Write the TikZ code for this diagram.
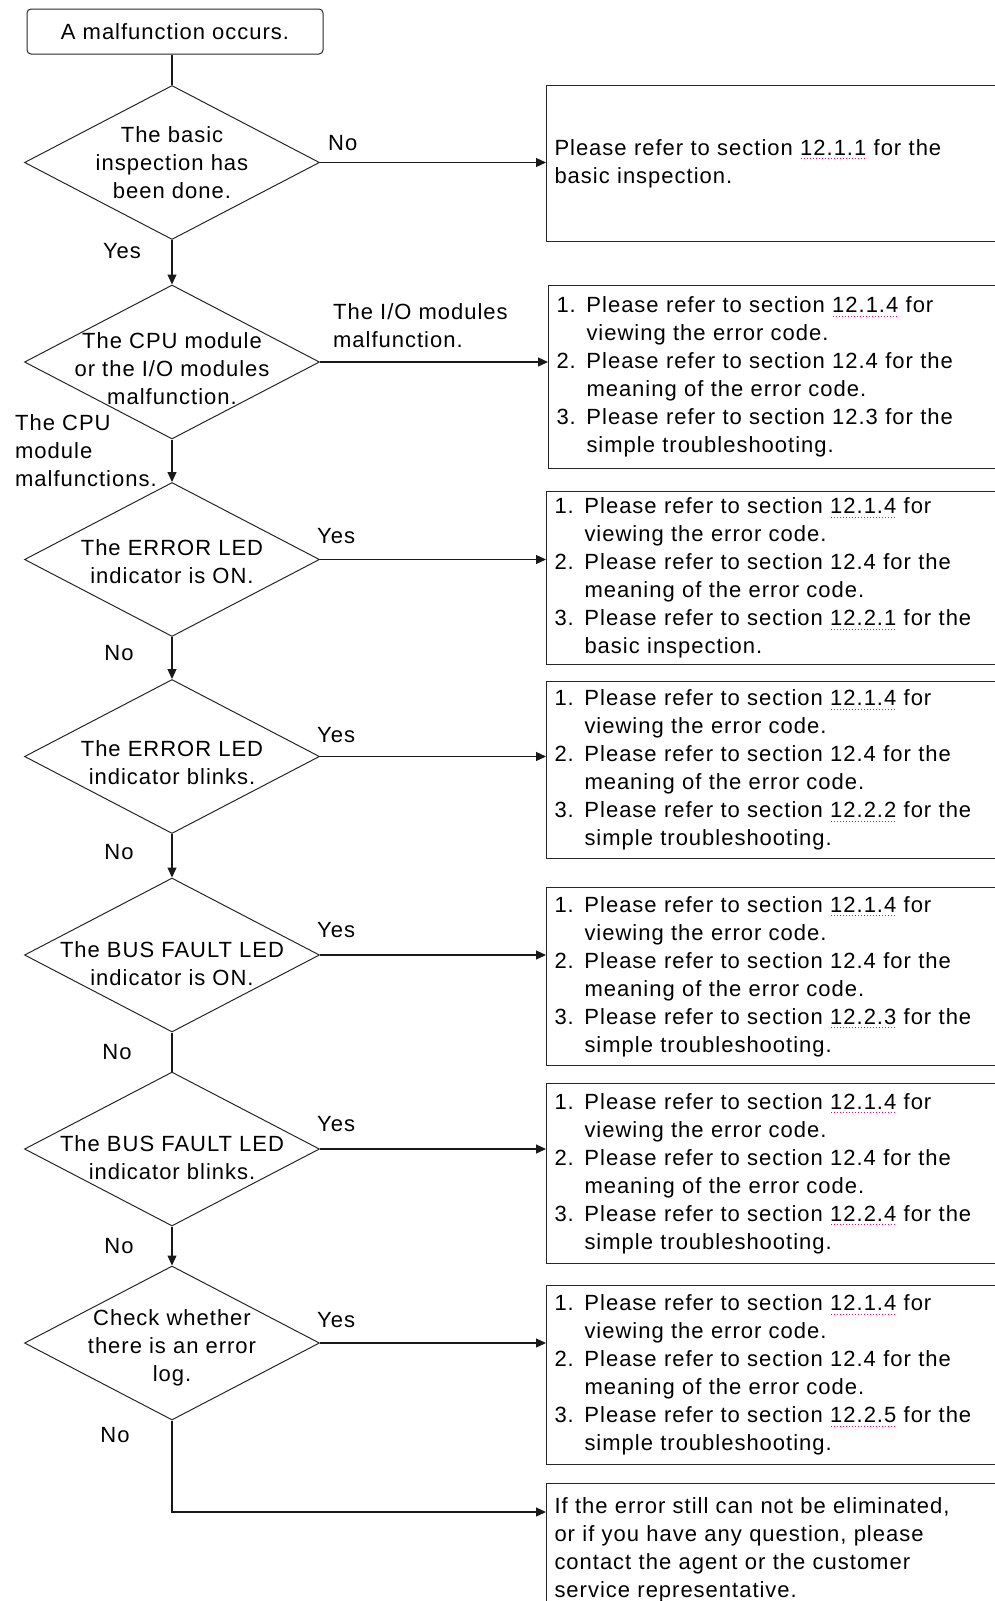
\documentclass[tikz,border=0pt]{standalone}
\usepackage{fontspec}
\setmainfont{Liberation Sans}[LetterSpace=4.5]
\usetikzlibrary{shapes.geometric,arrows.meta,calc}
\newsavebox\stbox
\newcommand\stag[1]{\sbox\stbox{#1}\rlap{\textcolor{magenta}{\raisebox{-4pt}{\hbox to \wd\stbox{\xleaders\hbox{\kern0.9pt\rule{1.1pt}{1.1pt}\kern0.9pt}\hfill}}}}\usebox\stbox}
\newcommand\itm[1]{\makebox[30pt][l]{#1}}
\newcommand\ind{\hspace*{30pt}}
\begin{document}
\begin{tikzpicture}[x=1pt,y=-1pt,
  font=\fontsize{22}{28}\selectfont,
  dec/.style={diamond, draw=black!85, line width=1pt, inner sep=0pt, aspect=2,
    minimum width=295pt, minimum height=154pt},
  dtext/.style={align=center, inner sep=0pt},
  refbox/.style={draw=black!85, line width=1pt, anchor=north west, text width=440pt,
    inner xsep=8pt, inner ysep=0pt, align=left},
  startbox/.style={draw=black!85, line width=1pt, rounded corners=4pt,
    minimum width=296pt, minimum height=45pt, inner sep=0pt},
  lbl/.style={inner sep=0pt, align=left},
  conn/.style={line width=1.2pt, draw=black!90},
  arr/.style={conn, -{Triangle[length=10pt,width=9pt]}}]
\useasboundingbox (0,0) rectangle (995,1601);
\clip (0,0) rectangle (995,1601);

% start
\node[startbox] (start) at (175,31.5) {A malfunction occurs.};

% decisions
\node[dec, label={[dtext]center:The basic\\inspection has\\been done.}] (d1) at (172,162.5) {};
\node[dec, label={[dtext, yshift=-7pt]center:The CPU module\\or the I/O modules\\malfunction.}] (d2) at (172,362) {};
\node[dec, label={[dtext, yshift=-2pt]center:The ERROR LED\\indicator is ON.}] (d3) at (172,559.5) {};
\node[dec, label={[dtext, yshift=-6pt]center:The ERROR LED\\indicator blinks.}] (d4) at (172,756.5) {};
\node[dec, label={[dtext, yshift=-9pt]center:The BUS FAULT LED\\indicator is ON.}] (d5) at (172,955) {};
\node[dec, label={[dtext, yshift=-9pt]center:The BUS FAULT LED\\indicator blinks.}] (d6) at (172,1149) {};
\node[dec, label={[dtext, yshift=-5pt]center:Check whether\\there is an error\\log.}] (d7) at (172,1343) {};

% reference boxes
\node[refbox, minimum height=156pt] (b1) at (546,85)
  {Please refer to section \stag{12.1.1} for the\\basic inspection.};
\node[refbox, minimum height=183pt] (b2) at (548,285)
  {\itm{1.}Please refer to section \stag{12.1.4} for\\\ind viewing the error code.\\
   \itm{2.}Please refer to section 12.4 for the\\\ind meaning of the error code.\\
   \itm{3.}Please refer to section 12.3 for the\\\ind simple troubleshooting.};
\node[refbox, minimum height=173pt] (b3) at (546,491)
  {\itm{1.}Please refer to section \stag{12.1.4} for\\\ind viewing the error code.\\
   \itm{2.}Please refer to section 12.4 for the\\\ind meaning of the error code.\\
   \itm{3.}Please refer to section \stag{12.2.1} for the\\\ind basic inspection.};
\node[refbox, minimum height=177pt] (b4) at (546,681)
  {\itm{1.}Please refer to section \stag{12.1.4} for\\\ind viewing the error code.\\
   \itm{2.}Please refer to section 12.4 for the\\\ind meaning of the error code.\\
   \itm{3.}Please refer to section \stag{12.2.2} for the\\\ind simple troubleshooting.};
\node[refbox, minimum height=178pt] (b5) at (546,887)
  {\itm{1.}Please refer to section \stag{12.1.4} for\\\ind viewing the error code.\\
   \itm{2.}Please refer to section 12.4 for the\\\ind meaning of the error code.\\
   \itm{3.}Please refer to section \stag{12.2.3} for the\\\ind simple troubleshooting.};
\node[refbox, minimum height=180pt] (b6) at (546,1083)
  {\itm{1.}Please refer to section \stag{12.1.4} for\\\ind viewing the error code.\\
   \itm{2.}Please refer to section 12.4 for the\\\ind meaning of the error code.\\
   \itm{3.}Please refer to section \stag{12.2.4} for the\\\ind simple troubleshooting.};
\node[refbox, minimum height=179pt] (b7) at (546,1285)
  {\itm{1.}Please refer to section \stag{12.1.4} for\\\ind viewing the error code.\\
   \itm{2.}Please refer to section 12.4 for the\\\ind meaning of the error code.\\
   \itm{3.}Please refer to section \stag{12.2.5} for the\\\ind simple troubleshooting.};
\node[refbox, minimum height=132pt] (b8) at (546,1483)
  {If the error still can not be eliminated,\\or if you have any question, please\\contact the agent or the customer\\service representative.};

% branch labels
\node[lbl, anchor=west] (n1) at (328,143) {No};
\node[lbl] (y1) at (122,251) {Yes};
\node[lbl, anchor=west] (io) at (333,326) {The I/O modules\\malfunction.};
\node[lbl, anchor=west] (cpu) at (15,451) {The CPU\\module\\malfunctions.};
\node[lbl, anchor=west] (y3) at (317,536) {Yes};
\node[lbl] (n3) at (119,653) {No};
\node[lbl, anchor=west] (y4) at (317,735) {Yes};
\node[lbl] (n4) at (119,852) {No};
\node[lbl, anchor=west] (y5) at (317,930) {Yes};
\node[lbl] (n5) at (117,1052) {No};
\node[lbl, anchor=west] (y6) at (317,1124) {Yes};
\node[lbl] (n6) at (119,1246) {No};
\node[lbl, anchor=west] (y7) at (317,1320) {Yes};
\node[lbl] (n7) at (115,1435) {No};

% connectors
\draw[conn] (d1.north |- start.south) -- (d1.north);
\draw[arr] (d1.east) -- (d1.east -| b1.west);
\draw[arr] (d1.south) -- (d2.north);
\draw[arr] (d2.east) -- (d2.east -| b2.west);
\draw[arr] (d2.south) -- (d3.north);
\draw[arr] (d3.east) -- (d3.east -| b3.west);
\draw[arr] (d3.south) -- (d4.north);
\draw[arr] (d4.east) -- (d4.east -| b4.west);
\draw[arr] (d4.south) -- (d5.north);
\draw[arr] (d5.east) -- (d5.east -| b5.west);
\draw[conn] (d5.south) -- (d6.north);
\draw[arr] (d6.east) -- (d6.east -| b6.west);
\draw[arr] (d6.south) -- (d7.north);
\draw[arr] (d7.east) -- (d7.east -| b7.west);
\coordinate (c8) at (172,1512);
\draw[arr] (d7.south) -- (c8) -- (c8 -| b8.west);
\end{tikzpicture}
\end{document}
